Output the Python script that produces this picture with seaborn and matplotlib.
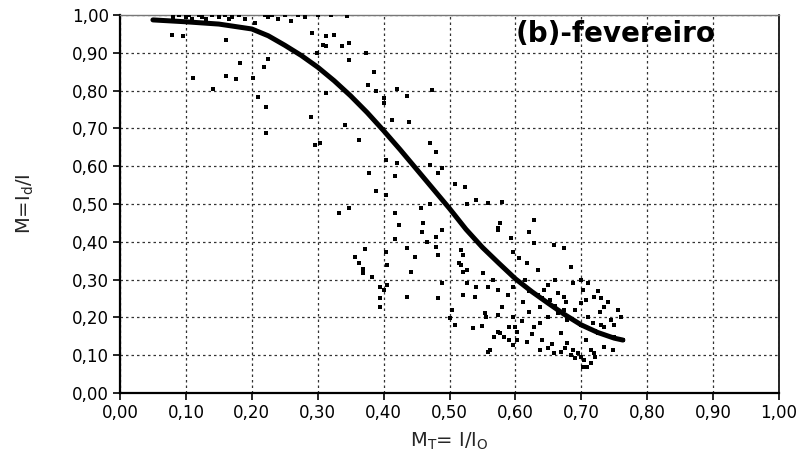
import matplotlib
matplotlib.use("Agg")
import matplotlib.pyplot as plt
from matplotlib.ticker import FuncFormatter, MultipleLocator
import seaborn as sns
import pandas as pd

# Fitted curve of the diffuse fraction against the clearness index
curve_mt = [0.05, 0.10, 0.15, 0.20, 0.225, 0.25, 0.275, 0.30, 0.325, 0.35,
            0.375, 0.40, 0.425, 0.45, 0.475, 0.50, 0.525, 0.55, 0.575, 0.60,
            0.625, 0.65, 0.675, 0.70, 0.725, 0.75, 0.763]
curve_m = [0.987, 0.982, 0.976, 0.963, 0.945, 0.920, 0.893, 0.862, 0.826, 0.786,
           0.742, 0.694, 0.644, 0.592, 0.540, 0.488, 0.433, 0.385, 0.343, 0.302,
           0.268, 0.237, 0.207, 0.180, 0.160, 0.145, 0.140]

# Daily observations (clearness index MT, diffuse fraction M)
obs_mt = [
    0.08, 0.09, 0.10, 0.105, 0.11, 0.12, 0.125, 0.13, 0.14, 0.15, 0.16, 0.165,
    0.17, 0.18, 0.19, 0.205, 0.22, 0.225, 0.23, 0.24, 0.25, 0.26, 0.27, 0.28,
    0.30, 0.32, 0.345,
    0.079, 0.096, 0.161, 0.292, 0.312, 0.324, 0.308, 0.299, 0.182, 0.225,
    0.219, 0.111, 0.161, 0.176, 0.202, 0.141, 0.210, 0.222, 0.290, 0.222,
    0.304, 0.313, 0.337, 0.347, 0.374, 0.347, 0.385, 0.313, 0.377, 0.388,
    0.400, 0.400, 0.421, 0.436, 0.473, 0.342, 0.413, 0.438, 0.363, 0.296,
    0.471, 0.479, 0.403, 0.421, 0.471, 0.482, 0.489, 0.378, 0.418, 0.508,
    0.524, 0.388, 0.403, 0.333, 0.348, 0.418, 0.456, 0.471, 0.527, 0.540,
    0.558, 0.424, 0.460, 0.459, 0.489, 0.573, 0.418, 0.466, 0.479, 0.479,
    0.372, 0.403, 0.436, 0.482, 0.357, 0.448, 0.363, 0.368, 0.369, 0.383,
    0.405, 0.441, 0.395, 0.405, 0.400, 0.489, 0.517, 0.517, 0.521, 0.527,
    0.540, 0.551, 0.566, 0.559, 0.436, 0.482, 0.573, 0.395, 0.394, 0.504,
    0.501, 0.509, 0.536, 0.550, 0.559, 0.554, 0.577, 0.582, 0.590, 0.597,
    0.600, 0.580, 0.577, 0.574, 0.593, 0.620, 0.628, 0.628, 0.658, 0.673,
    0.596, 0.605, 0.618, 0.635, 0.520, 0.514, 0.527, 0.520, 0.539, 0.588,
    0.596, 0.611, 0.580, 0.574, 0.556, 0.596, 0.590, 0.603, 0.603, 0.567,
    0.574, 0.618, 0.562, 0.638, 0.649, 0.658, 0.669, 0.628, 0.638, 0.649,
    0.664, 0.638, 0.653, 0.664, 0.643, 0.634, 0.676, 0.679, 0.684, 0.687,
    0.702, 0.719, 0.707, 0.729, 0.745, 0.734, 0.763, 0.749, 0.748, 0.719,
    0.704, 0.691, 0.688, 0.679, 0.669, 0.673, 0.673, 0.699, 0.717, 0.725,
    0.707, 0.734, 0.709, 0.714, 0.734, 0.750, 0.714, 0.702,
    0.62, 0.64, 0.66, 0.68, 0.70, 0.72, 0.74, 0.69, 0.71, 0.73, 0.695, 0.70,
    0.685, 0.72, 0.675, 0.655, 0.64, 0.625, 0.61, 0.62, 0.65, 0.66, 0.615,
    0.70, 0.71, 0.725, 0.74, 0.755, 0.76, 0.73,
]
obs_m = [
    0.995, 1.0, 0.995, 1.0, 0.99, 1.0, 0.995, 0.99, 1.0, 0.995, 1.0, 0.99,
    0.995, 1.0, 0.99, 0.979, 1.0, 0.995, 1.0, 0.99, 1.0, 0.985, 1.0, 0.995,
    1.0, 1.0, 0.998,
    0.947, 0.944, 0.934, 0.952, 0.944, 0.947, 0.921, 0.899, 0.873, 0.884,
    0.862, 0.833, 0.839, 0.831, 0.833, 0.804, 0.783, 0.757, 0.730, 0.688,
    0.661, 0.918, 0.918, 0.926, 0.899, 0.881, 0.849, 0.794, 0.815, 0.799,
    0.780, 0.767, 0.804, 0.786, 0.802, 0.709, 0.722, 0.717, 0.669, 0.656,
    0.661, 0.638, 0.616, 0.608, 0.603, 0.582, 0.595, 0.582, 0.574, 0.553,
    0.545, 0.534, 0.524, 0.476, 0.489, 0.476, 0.489, 0.500, 0.500, 0.511,
    0.503, 0.444, 0.450, 0.426, 0.431, 0.437, 0.407, 0.399, 0.413, 0.386,
    0.381, 0.373, 0.384, 0.365, 0.360, 0.360, 0.344, 0.328, 0.317, 0.307,
    0.339, 0.320, 0.280, 0.286, 0.272, 0.291, 0.378, 0.339, 0.320, 0.291,
    0.280, 0.317, 0.299, 0.280, 0.254, 0.251, 0.272, 0.228, 0.251, 0.220,
    0.198, 0.180, 0.172, 0.177, 0.108, 0.212, 0.159, 0.148, 0.140, 0.127,
    0.175, 0.505, 0.450, 0.431, 0.410, 0.426, 0.458, 0.397, 0.392, 0.384,
    0.373, 0.357, 0.344, 0.325, 0.365, 0.344, 0.325, 0.259, 0.254, 0.259,
    0.280, 0.241, 0.228, 0.206, 0.200, 0.201, 0.175, 0.161, 0.140, 0.148,
    0.161, 0.135, 0.114, 0.114, 0.119, 0.106, 0.108, 0.175, 0.185, 0.201,
    0.212, 0.228, 0.246, 0.265, 0.272, 0.259, 0.241, 0.193, 0.333, 0.291,
    0.272, 0.254, 0.246, 0.214, 0.193, 0.175, 0.140, 0.148, 0.114, 0.106,
    0.087, 0.093, 0.114, 0.132, 0.159, 0.220, 0.254, 0.238, 0.185, 0.159,
    0.140, 0.122, 0.069, 0.114, 0.228, 0.180, 0.079, 0.069,
    0.27, 0.25, 0.23, 0.20, 0.18, 0.165, 0.15, 0.22, 0.20, 0.18, 0.105, 0.095,
    0.10, 0.095, 0.12, 0.13, 0.14, 0.155, 0.19, 0.215, 0.285, 0.30, 0.30,
    0.30, 0.29, 0.27, 0.24, 0.22, 0.20, 0.25,
]

sns.set_style("ticks")
plt.rcParams["font.family"] = ["DejaVu Sans"]
plt.rcParams["mathtext.default"] = "regular"

fig = plt.figure(figsize=(8.09, 4.53), dpi=100)
ax = fig.add_axes([0.1483, 0.1325, 0.8147, 0.8344])

obs = pd.DataFrame({"MT": obs_mt, "M": obs_m})
curve = pd.DataFrame({"MT": curve_mt, "M": curve_m})

sns.scatterplot(data=obs, x="MT", y="M", marker="s", s=12, color="black",
                linewidth=0, ax=ax, zorder=3)
sns.lineplot(data=curve, x="MT", y="M", color="black", linewidth=3.6,
             ax=ax, zorder=4)

ax.set_xlim(0, 1)
ax.set_ylim(0, 1)
ax.xaxis.set_major_locator(MultipleLocator(0.1))
ax.yaxis.set_major_locator(MultipleLocator(0.1))
fmt = FuncFormatter(lambda v, _: f"{v:.2f}".replace(".", ","))
ax.xaxis.set_major_formatter(fmt)
ax.yaxis.set_major_formatter(fmt)
ax.tick_params(axis="both", direction="out", length=5, width=1.2,
               labelsize=12, pad=3, colors="black")

ax.grid(True, which="major", color="#333333", linestyle=(0, (2.0, 2.4)),
        linewidth=0.9)
ax.set_axisbelow(True)

for side in ("left", "bottom"):
    ax.spines[side].set_linewidth(1.6)
    ax.spines[side].set_color("black")
ax.spines["right"].set_linewidth(1.2)
ax.spines["right"].set_color("black")
ax.spines["top"].set_linewidth(1.0)
ax.spines["top"].set_color("#777777")

ax.set_xlabel("M$_T$= I/I$_O$", fontsize=14, labelpad=6)
ax.set_ylabel("M=I$_d$/I", fontsize=14, labelpad=26)

ax.text(0.600, 0.929, "(b)-fevereiro", transform=ax.transAxes,
        ha="left", va="baseline", fontsize=20, fontweight="bold",
        color="black")

fig.savefig("out.png", dpi=100)
